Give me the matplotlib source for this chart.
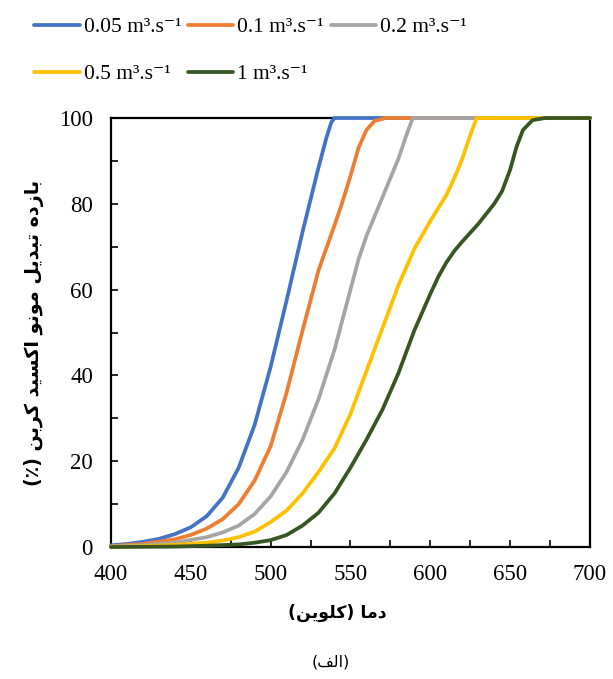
import matplotlib
matplotlib.use("Agg")
import matplotlib.pyplot as plt
from matplotlib.ticker import MultipleLocator

plt.rcParams['font.family'] = ['Liberation Serif', 'DejaVu Serif']

# داده‌ها (خوانده شده از نمودار)
labels = ["0.05 m³.s⁻¹", "0.1 m³.s⁻¹", "0.2 m³.s⁻¹", "0.5 m³.s⁻¹", "1 m³.s⁻¹"]
colors = ["#4472C4", "#ED7D31", "#A5A5A5", "#FFC000", "#375623"]

t_005 = [400, 410, 420, 430, 440, 450, 460, 470, 480, 490, 500, 510, 520, 525, 530, 535, 538, 540, 700]
x_005 = [0.4, 0.7, 1.2, 1.9, 3.0, 4.6, 7.2, 11.5, 18.5, 28.5, 42, 57.5, 73.5, 81, 88.5, 95.5, 99, 100, 100]

t_01 = [400, 420, 440, 450, 460, 470, 480, 490, 500, 510, 520, 530, 540, 545, 550, 555, 560, 565, 572, 700]
x_01 = [0.2, 0.7, 1.8, 2.8, 4.3, 6.5, 10, 15.5, 23.5, 36, 50.5, 64.5, 75, 80.5, 86.5, 93, 97.2, 99.3, 100, 100]

t_02 = [400, 420, 440, 460, 470, 480, 490, 500, 510, 520, 530, 540, 545, 550, 555, 560, 565, 570, 575, 580, 585, 589, 700]
x_02 = [0.1, 0.4, 1.0, 2.3, 3.4, 5.0, 7.7, 11.8, 17.5, 25, 34.5, 46, 53, 60, 67, 72.5, 77, 81.5, 86, 90.5, 96, 100, 100]

t_05 = [400, 420, 440, 460, 470, 480, 490, 500, 510, 520, 530, 540, 550, 560, 570, 580, 590, 600, 605, 610, 615, 620, 625, 629, 700]
x_05 = [0.0, 0.2, 0.5, 1.0, 1.5, 2.3, 3.6, 5.8, 8.5, 12.5, 17.5, 23, 31, 41, 51, 61, 69.5, 76, 79, 82, 86, 90.5, 96, 100, 100]

t_1 = [400, 440, 460, 480, 490, 500, 510, 520, 530, 540, 550, 560, 570, 580, 590, 600, 605, 610, 615, 620, 630,
       640, 645, 650, 654, 658, 664, 672, 700]
x_1 = [0.0, 0.1, 0.3, 0.6, 1.0, 1.6, 2.8, 5.0, 8.0, 12.5, 18.5, 25, 32, 40.5, 50.5, 59, 63, 66.3, 69, 71.2, 75.3,
       80, 83, 88, 93.3, 97.2, 99.5, 100, 100]

temps = [t_005, t_01, t_02, t_05, t_1]
convs = [x_005, x_01, x_02, x_05, x_1]

ylabel_fa = "بازده تبدیل مونو اکسید کربن (٪)"
xlabel_fa = "دما (کلوین)"
caption_fa = "(الف)"

# شکل‌دهی ساده حروف فارسی (matplotlib اتصال حروف را انجام نمی‌دهد)
FORMS = {
    'ا': ('\uFE8D', '\uFE8E', None, None),
    'ب': ('\uFE8F', '\uFE90', '\uFE91', '\uFE92'),
    'ت': ('\uFE95', '\uFE96', '\uFE97', '\uFE98'),
    'د': ('\uFEA9', '\uFEAA', None, None),
    'ر': ('\uFEAD', '\uFEAE', None, None),
    'ز': ('\uFEAF', '\uFEB0', None, None),
    'س': ('\uFEB1', '\uFEB2', '\uFEB3', '\uFEB4'),
    'ف': ('\uFED1', '\uFED2', '\uFED3', '\uFED4'),
    'ک': ('\uFED9', '\uFEDA', '\uFEDB', '\uFEDC'),
    'ل': ('\uFEDD', '\uFEDE', '\uFEDF', '\uFEE0'),
    'م': ('\uFEE1', '\uFEE2', '\uFEE3', '\uFEE4'),
    'ن': ('\uFEE5', '\uFEE6', '\uFEE7', '\uFEE8'),
    'ه': ('\uFEE9', '\uFEEA', '\uFEEB', '\uFEEC'),
    'و': ('\uFEED', '\uFEEE', None, None),
    'ی': ('\uFEEF', '\uFEF0', '\uFEF3', '\uFEF4'),
}


def shape(text):
    out = []
    for i, ch in enumerate(text):
        if ch not in FORMS:
            out.append(ch)
            continue
        prev = text[i - 1] if i > 0 else ''
        nxt = text[i + 1] if i + 1 < len(text) else ''
        jp = prev in FORMS and FORMS[prev][2] is not None
        jn = FORMS[ch][2] is not None and nxt in FORMS
        iso, fin, ini, med = FORMS[ch]
        if jp and jn:
            out.append(med)
        elif jp:
            out.append(fin)
        elif jn:
            out.append(ini)
        else:
            out.append(iso)
    s = ''.join(reversed(out))
    return s.translate(str.maketrans('()', ')('))


fig = plt.figure(figsize=(6.13, 6.79), dpi=100)
ax = fig.add_axes([0.181, 0.1944, 0.7815, 0.6318])

handles = []
for t, c, lab, col in zip(temps, convs, labels, colors):
    h, = ax.plot(t, c, color=col, lw=2.7, label=lab, zorder=3, clip_on=False,
                 solid_capstyle='round', solid_joinstyle='round')
    handles.append(h)

ax.set_xlim(400, 700)
ax.set_ylim(0, 100)
ax.xaxis.set_major_locator(MultipleLocator(50))
ax.xaxis.set_minor_locator(MultipleLocator(25))
ax.yaxis.set_major_locator(MultipleLocator(20))
ax.yaxis.set_minor_locator(MultipleLocator(10))
ax.tick_params(which='both', direction='in', length=5, width=1.2, labelsize=16.5)
ax.tick_params(axis='y', which='major', pad=13)
ax.tick_params(axis='x', which='major', pad=12)
for side in ['left', 'right', 'bottom', 'top']:
    ax.spines[side].set_linewidth(1.6)

fa = ['DejaVu Sans']
ax.set_ylabel(shape(ylabel_fa), family=fa, fontweight='bold', fontsize=13.8, labelpad=11)
ax.set_xlabel(shape(xlabel_fa), family=fa, fontweight='bold', fontsize=12.5, labelpad=14)
ax.xaxis.label.set_x(0.472)
fig.text(0.54, 0.025, shape(caption_fa), family=fa, fontsize=11.5, ha='center', va='center')

# ترتیب افقی در لژند
order = [0, 3, 1, 4, 2]
fig.legend([handles[i] for i in order], [labels[i] for i in order],
           loc='upper left', bbox_to_anchor=(0.028, 1.0), ncol=3, frameon=False,
           fontsize=15.5, handlelength=2.1, handletextpad=0.2, columnspacing=0.3,
           labelspacing=1.25, borderaxespad=0.4)

fig.savefig("out.png", dpi=100)
